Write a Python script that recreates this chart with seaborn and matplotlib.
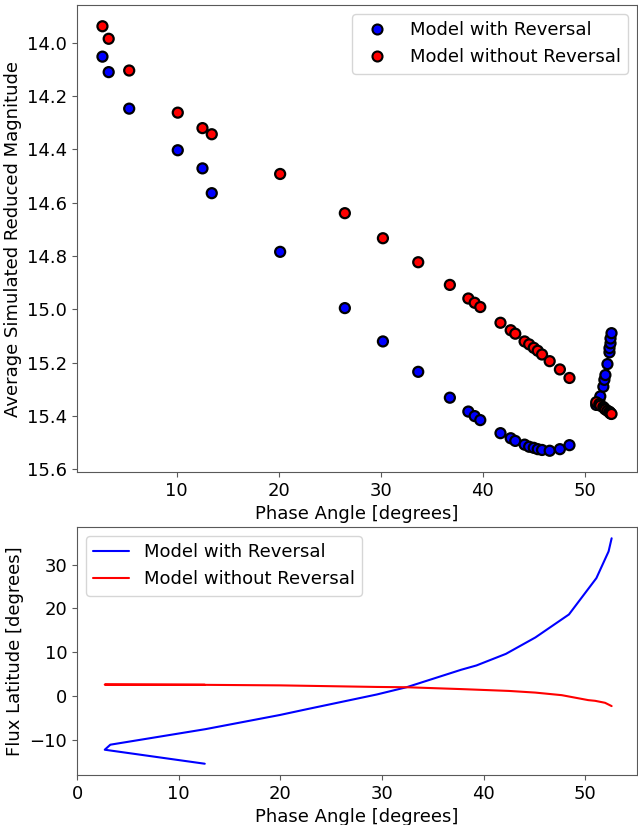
import numpy as np
import matplotlib
matplotlib.use('Agg')
import matplotlib.pyplot as plt
import pandas as pd
import seaborn as sns

# Phase angles of the simulated observations (degrees)
phase = [2.72, 3.33, 5.34, 10.1, 12.52, 13.43, 20.13, 26.47, 30.2, 33.66,
         36.76, 38.57, 39.19, 39.74, 41.72, 42.72, 43.17, 44.08, 44.53,
         44.98, 45.37, 45.79, 46.54, 47.54, 48.48,
         51.1, 51.4, 51.5, 51.8, 51.9, 52.0, 52.2, 52.4, 52.4, 52.5, 52.5, 52.6]

# Average simulated reduced magnitude
mag_rev = [14.052, 14.110, 14.247, 14.403, 14.471, 14.564, 14.784, 14.995,
           15.120, 15.234, 15.331, 15.383, 15.400, 15.415, 15.464, 15.483,
           15.493, 15.507, 15.515, 15.519, 15.524, 15.527, 15.530, 15.524,
           15.509,
           15.358, 15.342, 15.326, 15.290, 15.264, 15.246, 15.205, 15.161,
           15.145, 15.127, 15.109, 15.089]
mag_norev = [13.938, 13.985, 14.104, 14.262, 14.320, 14.343, 14.492, 14.639,
             14.733, 14.823, 14.908, 14.959, 14.975, 14.991, 15.050, 15.078,
             15.091, 15.120, 15.131, 15.144, 15.155, 15.169, 15.194, 15.225,
             15.257,
             15.348, 15.355, 15.361, 15.366, 15.371, 15.375, 15.380, 15.384,
             15.386, 15.389, 15.390, 15.392]

# Flux latitude vs phase angle
lat_phase_rev = [12.57, 2.73, 3.28, 12.64, 19.95, 22.7, 29.5, 32.46, 37.8,
                 39.3, 42.2, 45.1, 48.4, 51.1, 52.3, 52.6]
lat_rev = [-15.5, -12.3, -11.15, -7.6, -4.37, -3.0, 0.32, 2.0, 5.97,
           6.95, 9.6, 13.35, 18.6, 26.9, 33.0, 36.0]
lat_phase_norev = [12.57, 2.73, 3.28, 12.6, 20.0, 29.5, 32.46, 37.8, 42.5,
                   45.1, 47.7, 50.3, 50.98, 51.95, 52.6]
lat_norev = [2.55, 2.58, 2.57, 2.52, 2.4, 2.04, 1.97, 1.55, 1.13,
             0.75, 0.16, -0.97, -1.13, -1.58, -2.33]

sns.set_style('ticks', {'axes.edgecolor': '0.35', 'xtick.color': '0.35',
                        'ytick.color': '0.35'})
plt.rcParams['font.family'] = ['DejaVu Sans']
plt.rcParams['font.size'] = 13
plt.rcParams['text.color'] = 'black'

lab_rev = 'Model with Reversal'
lab_norev = 'Model without Reversal'
fs = 13

df = pd.DataFrame({
    'phase': phase + phase,
    'mag': mag_rev + mag_norev,
    'model': [lab_rev] * len(phase) + [lab_norev] * len(phase),
})

fig = plt.figure(figsize=(6.38, 8.25), dpi=100)
ax1 = fig.add_axes([0.1207, 0.4279, 0.8777, 0.566])
ax2 = fig.add_axes([0.1207, 0.0606, 0.8777, 0.3006])

sns.scatterplot(data=df, x='phase', y='mag', hue='model',
                palette={lab_rev: 'blue', lab_norev: 'red'},
                s=52, edgecolor='black', linewidth=1.6, ax=ax1)
ax1.invert_yaxis()
ax1.set_xlabel('Phase Angle [degrees]', fontsize=fs, color='black')
ax1.set_ylabel('Average Simulated Reduced Magnitude', fontsize=fs, color='black')
ax1.tick_params(labelsize=fs, labelcolor='black')
leg = ax1.legend(loc='upper right', fontsize=fs, title=None)
for h in leg.legend_handles:
    h.set_markeredgecolor('black')
    h.set_markeredgewidth(1.5)

sns.lineplot(x=lat_phase_rev, y=lat_rev, sort=False, estimator=None,
             color='blue', linewidth=1.5, label=lab_rev, ax=ax2)
sns.lineplot(x=lat_phase_norev, y=lat_norev, sort=False, estimator=None,
             color='red', linewidth=1.5, label=lab_norev, ax=ax2)
ax2.set_xlim(left=0)
ax2.set_yticks([-10, 0, 10, 20, 30])
ax2.set_xlabel('Phase Angle [degrees]', fontsize=fs, color='black')
ax2.set_ylabel('Flux Latitude [degrees]', fontsize=fs, color='black')
ax2.tick_params(labelsize=fs, labelcolor='black')
ax2.legend(loc='upper left', fontsize=fs)

fig.savefig('out.png', dpi=100)
